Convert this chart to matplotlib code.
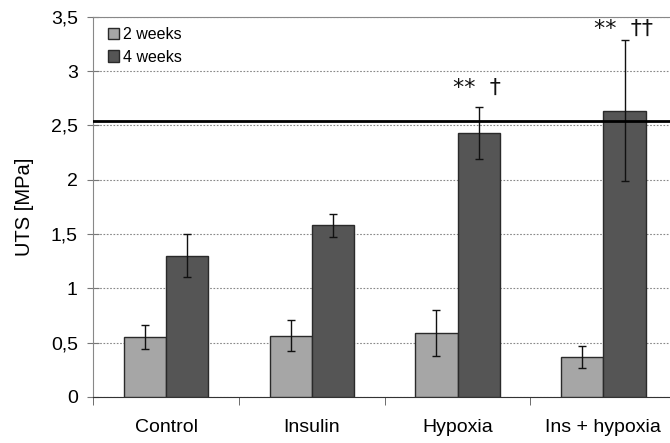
import matplotlib.pyplot as plt
import numpy as np

groups = ["Control", "Insulin", "Hypoxia", "Ins + hypoxia"]
uts_2w = [0.55, 0.565, 0.59, 0.37]
err_2w = [0.11, 0.14, 0.215, 0.10]
uts_4w = [1.30, 1.58, 2.43, 2.635]
err_4w = [0.20, 0.105, 0.24, 0.65]
native_uts = 2.545
marks = ["", "", "**  \u2020", "**  \u2020\u2020"]
mark_y = [0, 0, 2.85, 3.39]
yticks = [0, 0.5, 1, 1.5, 2, 2.5, 3, 3.5]
ytick_labels = ["0", "0,5", "1", "1,5", "2", "2,5", "3", "3,5"]

plt.rcParams['font.family'] = ['Liberation Sans', 'DejaVu Sans']

fig = plt.figure(figsize=(6.7, 4.43), dpi=100)
ax = fig.add_axes([0.139, 0.104, 0.866, 0.858])

x = np.arange(len(groups))
w = 0.29
ax.bar(x - w / 2, uts_2w, w, color="#a6a6a6", edgecolor="#2a2a2a", linewidth=1.0,
       label="2 weeks", zorder=3)
ax.bar(x + w / 2, uts_4w, w, color="#555555", edgecolor="#2a2a2a", linewidth=1.0,
       label="4 weeks", zorder=3)
ax.errorbar(x - w / 2, uts_2w, yerr=err_2w, fmt="none", ecolor="#111111",
            elinewidth=1.0, capsize=3, capthick=1.0, zorder=4)
ax.errorbar(x + w / 2, uts_4w, yerr=err_4w, fmt="none", ecolor="#111111",
            elinewidth=1.0, capsize=3, capthick=1.0, zorder=4)

ax.axhline(native_uts, color="black", linewidth=2, zorder=5)

for xi, m, my in zip(x, marks, mark_y):
    if m:
        ax.text(xi + w / 2 - 0.01, my, m, ha="center", va="center", fontsize=16,
                family=['DejaVu Sans'], color="#111111")

ax.set_ylim(0, 3.5)
ax.set_xlim(-0.5, 3.48)
ax.set_yticks(yticks)
ax.set_yticklabels(ytick_labels, fontsize=14)
ax.set_xticks(x)
ax.set_xticklabels(groups, fontsize=14)
ax.tick_params(axis="x", length=0, pad=16)
ax.set_xticks(np.arange(len(groups)) - 0.5, minor=True)
ax.tick_params(axis="x", which="minor", length=6, color="#555555", direction="out")
ax.tick_params(axis="y", length=8, color="#777777", direction="inout", pad=7)
ax.set_ylabel("UTS [MPa]", fontsize=14.5, labelpad=12)

ax.yaxis.grid(True, linestyle=(0, (1.5, 1.5)), color="#888888", linewidth=0.8, zorder=0)
ax.set_axisbelow(True)
for side in ["top", "left"]:
    ax.spines[side].set_color("#888888")
ax.spines["bottom"].set_color("#333333")
ax.spines["right"].set_visible(False)

ax.legend(loc="upper left", frameon=False, fontsize=11.5, handlelength=0.7,
          handleheight=0.7, handletextpad=0.3, labelspacing=0.45,
          bbox_to_anchor=(0.0, 1.01))

fig.savefig("out.png", dpi=100)
